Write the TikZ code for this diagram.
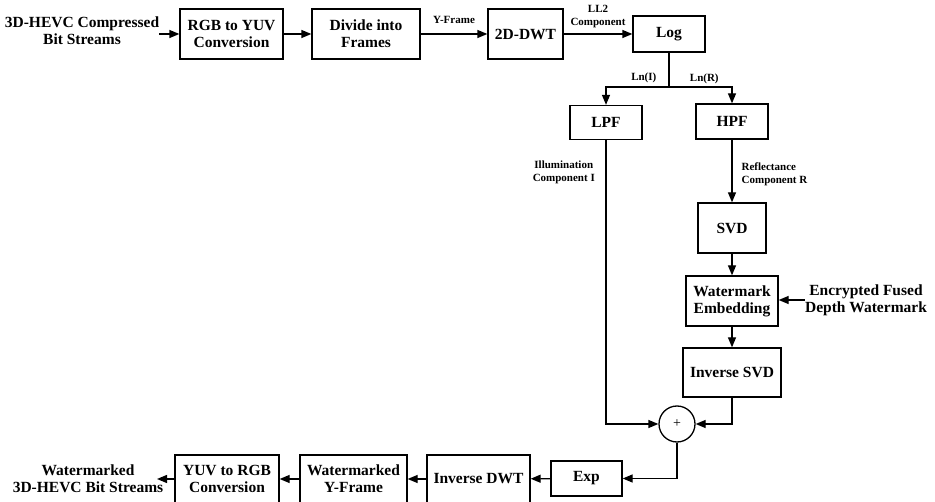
\documentclass[tikz,border=0pt]{standalone}
\usepackage{fontspec}
\setmainfont{Liberation Serif}
\usetikzlibrary{arrows.meta,positioning,calc}

\begin{document}
\begin{tikzpicture}[x=1pt, y=-1pt,
    >={Triangle[length=10pt,width=8pt]},
    blk/.style 2 args={draw, line width=1.3pt, minimum width=#1pt, minimum height=#2pt,
      inner sep=0pt, align=center, font=\fontsize{15.5}{17}\selectfont\bfseries},
    lbl/.style={inner sep=0pt, align=center, font=\fontsize{15.5}{17}\selectfont\bfseries},
    tag/.style={inner sep=0pt, align=center, font=\fontsize{11}{12.5}\selectfont\bfseries},
    flow/.style={->, line width=1.3pt}]
    \useasboundingbox (0,0) rectangle (935,502);
    % --- Forward chain (top row) ---
    \node[lbl] (src) at (82,31) {3D-HEVC Compressed\\Bit Streams};
    \node[blk={103}{50}] (rgb) at (231.5,34) {RGB to YUV\\Conversion};
    \node[blk={108}{50}] (div) at (366,34) {Divide into\\Frames};
    \node[blk={75}{50}] (dwt) at (525.5,34) {2D-DWT};
    \node[blk={72}{36}] (log) at (669,34) {Log};
    \coordinate (split) at (669,87);
    % --- Filters and embedding column ---
    \node[blk={72}{34}] (lpf) at (606,122.5) {LPF};
    \node[blk={72}{35}] (hpf) at (732,121.5) {HPF};
    \node[blk={68}{50}] (svd) at (732,228) {SVD};
    \node[blk={92}{50}] (wme) at (732,301) {Watermark\\Embedding};
    \node[blk={98}{49}] (isvd) at (732,372.5) {Inverse SVD};
    \node[lbl] (enc) at (866,300) {Encrypted Fused\\Depth Watermark};
    \node[draw, circle, line width=1.3pt, minimum size=36pt, inner sep=0pt,
      font=\fontsize{14}{14}\selectfont] (sum) at (677,424) {+};
    % --- Return chain (bottom row) ---
    \node[blk={71}{35}] (exp) at (586.5,478.5) {Exp};
    \node[blk={103}{48}] (idwt) at (478.5,479) {Inverse DWT};
    \node[blk={107}{48}] (wyf) at (353.5,479) {Watermarked\\Y-Frame};
    \node[blk={104}{48}] (yuv) at (227,479) {YUV to RGB\\Conversion};
    \node[lbl] (dst) at (88,479) {Watermarked\\3D-HEVC Bit Streams};
    \coordinate (dstend) at (157,479);
    % --- Connectors ---
    \draw[flow] (src.east |- rgb.west) -- (rgb.west);
    \draw[flow] (rgb) -- (div);
    \draw[flow] (div) -- node[tag, above=10pt] {Y-Frame} (dwt);
    \draw[flow] (dwt) -- node[tag, above=6pt] {LL2\\Component} (log);
    \draw[line width=1.3pt] (log.south) -- (split);
    \draw[flow] (split) -| node[tag, pos=0.2, above=4pt] {Ln(I)} (lpf.north);
    \draw[flow] (split) -| node[tag, pos=0.28, above=3pt] {Ln(R)} (hpf.north);
    \draw[flow] (hpf) -- node[tag, pos=0.55, right=9pt, align=left] {Reflectance\\Component R} (svd);
    \node[tag, anchor=east] (illum) at (595,172.5) {Illumination\\Component I};
    \draw[flow] (svd) -- (wme);
    \draw[flow] (enc.west) -- (wme.east |- enc.west);
    \draw[flow] (wme) -- (isvd);
    \draw[flow] (lpf.south) |- (sum.west);
    \draw[flow] (isvd.south) |- (sum.east);
    \draw[flow] (sum.south) |- (exp.east);
    \draw[flow] (exp) -- (idwt);
    \draw[flow] (idwt) -- (wyf);
    \draw[flow] (wyf) -- (yuv);
    \draw[flow] (yuv.west) -- (dstend);
  \end{tikzpicture}
\end{document}
